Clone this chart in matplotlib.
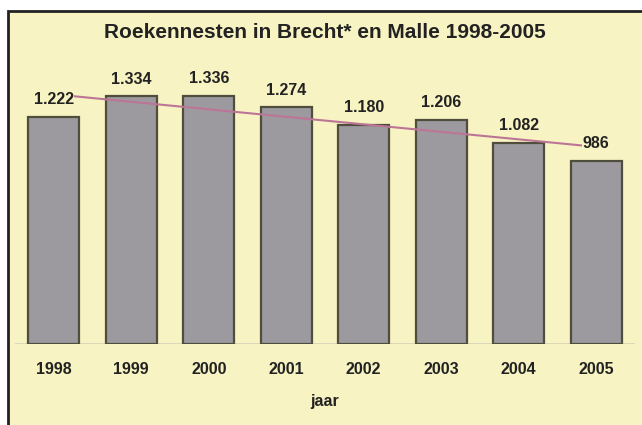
import numpy as np
import matplotlib
matplotlib.use('Agg')
from matplotlib import pyplot as plt
from matplotlib.patches import Rectangle

# data
years = ['1998', '1999', '2000', '2001', '2002', '2003', '2004', '2005']
nests = [1222, 1334, 1336, 1274, 1180, 1206, 1082, 986]
labels = ['1.222', '1.334', '1.336', '1.274', '1.180', '1.206', '1.082', '986']

panel_color = '#f7f3c2'
plt.rcParams['font.family'] = ['Liberation Sans', 'DejaVu Sans']

W, H = 642, 425
fig = plt.figure(figsize=(W / 100, H / 100), dpi=100, facecolor='white')

# yellow panel with dark border (right and bottom edges run off the picture)
fig.patches.append(Rectangle((7.5 / W, -0.05), 1.1, (H - 11) / H + 0.05,
                             transform=fig.transFigure, facecolor=panel_color,
                             edgecolor='#222222', linewidth=2, zorder=-5))

ymax = 1500
scale = 0.1858  # px per unit
ax = fig.add_axes([15 / W, 81 / H, 620 / W, ymax * scale / H])
ax.set_zorder(2)
ax.set_facecolor('none')

x = np.arange(len(years))
ax.bar(x, nests, width=0.66, color='#9c9a9e', edgecolor='#4f4e3c', linewidth=1.6, zorder=2)

# linear trend
coef = np.polyfit(x, nests, 1)
ax.plot(x, np.polyval(coef, x), color='#bc7596', linewidth=1.5, zorder=3)

for xi, v, lab in zip(x, nests, labels):
    ax.text(xi, v + 17 / scale, lab, ha='center', va='center', fontsize=11.5,
            fontweight='bold', color='#222222', zorder=4,
            bbox=dict(facecolor=panel_color, edgecolor='none', pad=0.5))

ax.axhline(0, color='#d6d2b8', linewidth=1.2, zorder=1)
ax.set_xlim(-0.5, len(years) - 0.5)
ax.set_ylim(0, ymax)
ax.set_yticks([])
ax.set_xticks(x)
ax.set_xticklabels(years, fontsize=11.5, fontweight='bold', color='#222222')
ax.tick_params(axis='x', length=0, pad=13)
for s in ax.spines.values():
    s.set_visible(False)

ax.set_xlabel('jaar', fontsize=11.5, fontweight='bold', color='#222222', labelpad=12)
fig.text(325 / W, 1 - 32 / H, 'Roekennesten in Brecht* en Malle 1998-2005',
         ha='center', va='center', fontsize=15, fontweight='bold', color='#222222')

fig.savefig('out.png', dpi=100, facecolor='white')
